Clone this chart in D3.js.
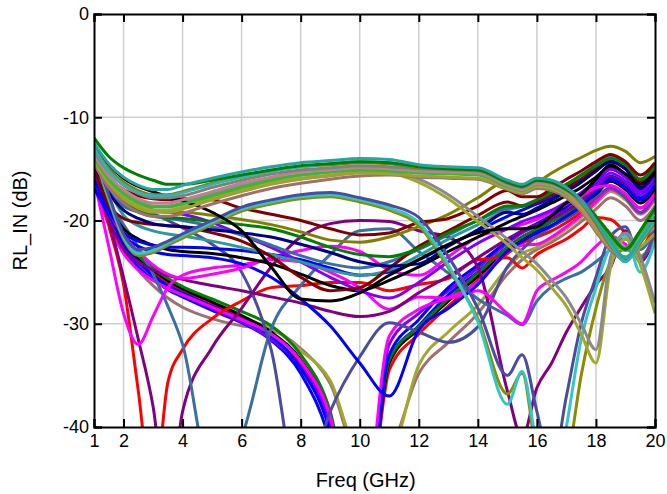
<!DOCTYPE html>
<html>
<head>
<meta charset="utf-8">
<script src="https://cdn.jsdelivr.net/npm/d3@7"></script>
<style>
  body { margin: 0; background: #fff; }
  text { font-family: 'Liberation Sans', Arial, sans-serif; fill: #000; }
</style>
</head>
<body>
<div id="chart"></div>
<script>
// frequency grid (GHz) shared by every trace
const freq = [1, 1.5, 2, 2.5, 3, 3.5, 4, 5, 6, 7, 8, 9, 10, 11, 12, 13, 14, 15, 15.5, 16, 16.5, 17, 17.5, 18, 18.5, 19, 19.5, 20]
const xTickVals = [1, 2, 4, 6, 8, 10, 12, 14, 16, 18, 20]
const yTickVals = [0, -10, -20, -30, -40]

// RL_IN traces (dB); values below -40 run off the plot
const topGreen = [-12.0, -13.8, -14.9, -15.6, -16.1, -16.5, -16.5, -16.1, -15.6, -15.1, -14.7, -14.5, -14.3, -14.4, -14.8, -15.0, -15.1, -16.3, -16.7, -16.1, -16.3, -17.0, -18.0, -19.6, -21.4, -22.8, -21.0, -18.8]
const topTeal = [-12.5, -14.5, -15.8, -16.6, -17.0, -17.0, -16.6, -15.9, -15.3, -14.8, -14.4, -14.2, -14.0, -14.1, -14.6, -14.8, -14.9, -16.1, -16.5, -15.9, -16.1, -16.8, -18.0, -20.0, -22.1, -23.6, -21.8, -19.6]
const topOlive = [-13.0, -15.0, -16.3, -17.1, -17.5, -17.5, -17.2, -16.4, -15.8, -15.2, -14.8, -14.6, -14.4, -14.5, -14.9, -15.0, -15.1, -16.3, -16.7, -16.1, -16.3, -17.0, -18.3, -20.3, -22.5, -23.9, -22.2, -20.2]
const topGray = [-13.3, -15.3, -16.6, -17.4, -17.8, -17.8, -17.6, -16.8, -16.1, -15.5, -15.1, -14.9, -14.7, -14.8, -15.0, -15.1, -15.2, -16.4, -16.8, -16.2, -16.4, -17.1, -18.0, -19.6, -21.3, -22.6, -21.0, -18.6]
const topRose = [-13.6, -15.7, -17.0, -17.9, -18.3, -18.3, -18.0, -17.2, -16.4, -15.8, -15.3, -15.1, -14.9, -15.0, -15.2, -15.3, -15.4, -16.6, -17.0, -16.4, -16.6, -17.3, -18.6, -20.6, -22.6, -23.6, -21.9, -20.6]
const topLime = [-13.9, -16.0, -17.4, -18.3, -18.7, -18.7, -18.4, -17.6, -16.8, -16.1, -15.6, -15.3, -15.1, -15.2, -15.4, -15.5, -15.6, -16.7, -17.1, -16.5, -16.7, -17.4, -18.3, -20.0, -21.8, -22.9, -21.3, -19.1]
const topYellow = [-14.2, -16.4, -17.9, -18.8, -19.2, -19.2, -18.9, -18.0, -17.2, -16.5, -16.0, -15.7, -15.4, -15.5, -15.7, -15.8, -15.9, -16.9, -17.3, -16.7, -16.9, -17.6, -18.9, -20.9, -22.7, -23.5, -22.6, -21.3]
const topBrown = [-14.5, -16.8, -18.3, -19.2, -19.6, -19.6, -19.3, -18.4, -17.6, -16.9, -16.4, -16.0, -15.7, -15.6, -15.8, -15.9, -16.0, -17.0, -17.4, -16.9, -17.1, -17.8, -19.1, -21.1, -22.9, -23.8, -22.0, -20.6]
const topTeal2 = [-13.0, -15.2, -16.5, -17.3, -17.6, -17.6, -17.3, -16.5, -15.8, -15.2, -14.8, -14.5, -14.3, -14.4, -14.8, -14.9, -15.0, -16.2, -16.6, -16.0, -16.2, -16.9, -18.1, -20.0, -22.3, -24.0, -22.0, -20.0]
const black1 = [-12.6, -14.6, -15.9, -16.7, -17.2, -17.7, -18.1, -19.2, -21.0, -24.5, -27.6, -27.8, -27.0, -25.3, -23.8, -22.3, -21.2, -20.8, -20.8, -20.6, -19.5, -18.3, -17.5, -16.0, -14.6, -15.5, -16.5, -15.3]
const descGray = [-13.8, -15.8, -17.2, -18.1, -18.6, -18.6, -18.3, -17.4, -16.6, -16.0, -15.6, -15.3, -15.1, -15.2, -16.0, -17.5, -19.6, -21.8, -23.0, -24.2, -25.8, -27.5, -30.0, -32.5, -23.5, -21.2, -23.5, -28.0]
const descYel = [-14.0, -16.1, -17.6, -18.5, -19.0, -19.0, -18.7, -17.8, -17.0, -16.3, -15.9, -15.6, -15.3, -15.4, -16.3, -17.9, -20.1, -22.3, -23.6, -24.8, -26.5, -28.3, -31.0, -33.8, -24.5, -21.8, -24.3, -29.0]
const slate = [-13.2, -17.5, -21.3, -22.8, -22.6, -22.0, -21.3, -20.0, -18.7, -18.0, -17.5, -17.3, -17.8, -18.5, -19.7, -23.5, -28.5, -35.0, -33.0, -38.5, -44.0, -37.0, -30.0, -25.5, -21.5, -20.6, -23.8, -21.0]
const cyan = [-13.4, -17.8, -21.6, -23.2, -22.9, -22.2, -21.5, -20.2, -18.9, -18.2, -17.7, -17.5, -18.0, -18.8, -20.2, -24.3, -29.8, -37.8, -34.6, -42.0, -48.0, -40.0, -31.5, -26.5, -22.5, -21.5, -25.0, -22.0]
const olive3 = [-13.6, -18.0, -21.8, -23.4, -23.1, -22.4, -21.7, -20.4, -19.1, -18.4, -17.9, -17.7, -18.2, -19.0, -20.5, -24.6, -29.5, -36.8, -34.8, -43.0, -48.0, -44.0, -35.0, -28.5, -24.0, -22.8, -23.5, -21.5]
const maroon1 = [-13.5, -15.8, -17.0, -17.6, -17.9, -18.0, -17.9, -18.0, -18.8, -19.4, -20.0, -20.8, -21.4, -21.2, -20.2, -19.8, -18.6, -17.1, -17.7, -17.7, -16.9, -16.0, -15.2, -14.3, -13.6, -14.3, -15.6, -14.4]
const olive4 = [-13.8, -16.3, -17.8, -18.6, -19.0, -19.2, -19.2, -19.5, -19.9, -20.4, -21.1, -21.9, -22.1, -21.6, -20.6, -19.4, -17.8, -16.2, -16.6, -16.3, -15.4, -14.6, -13.9, -13.2, -12.8, -13.3, -14.4, -13.8]
const green2 = [-14.0, -16.6, -18.2, -19.0, -19.5, -19.7, -19.8, -20.1, -20.4, -20.8, -21.6, -22.6, -23.3, -23.5, -22.7, -21.2, -20.0, -18.6, -18.6, -18.0, -17.3, -16.5, -15.6, -14.7, -14.0, -14.6, -16.0, -14.8]
const navy = [-14.5, -17.3, -19.0, -19.8, -20.3, -20.5, -20.6, -20.9, -21.2, -21.6, -22.3, -23.1, -24.0, -24.4, -24.2, -22.5, -20.9, -19.2, -19.4, -18.8, -18.0, -17.2, -16.3, -15.2, -14.3, -15.0, -16.8, -15.4]
const maroon2 = [-15.0, -18.5, -19.8, -20.2, -20.4, -20.5, -20.6, -21.2, -22.0, -23.5, -25.5, -26.8, -26.5, -24.6, -22.5, -21.0, -19.5, -18.2, -18.6, -18.2, -17.5, -16.8, -16.0, -15.0, -14.3, -15.0, -16.3, -15.0]
const steelV = [-15.5, -18.3, -20.4, -22.6, -25.2, -28.3, -32.0, -45.0, -41.0, -30.5, -26.3, -23.3, -21.0, -20.8, -23.0, -25.1, -27.6, -29.2, -30.1, -27.8, -26.4, -25.6, -25.0, -24.0, -22.8, -21.8, -22.8, -20.8]
const slateDive = [-14.2, -16.5, -17.8, -18.6, -19.3, -20.0, -20.7, -22.3, -25.0, -32.5, -47.0, -38.5, -33.2, -29.9, -30.8, -31.8, -30.3, -24.5, -22.8, -21.5, -20.6, -19.8, -18.8, -17.8, -16.8, -17.8, -19.2, -17.5]
const purpleV = [-15.2, -20.0, -25.5, -31.5, -38.0, -48.0, -38.5, -32.3, -28.5, -24.5, -21.6, -20.3, -20.0, -20.1, -21.0, -21.6, -24.5, -36.5, -41.0, -36.2, -33.8, -30.8, -28.4, -26.2, -24.5, -21.0, -24.0, -21.5]
const redLow = [-15.0, -20.5, -26.2, -36.5, -47.0, -35.7, -32.5, -29.5, -27.8, -26.5, -26.3, -26.0, -26.0, -26.8, -26.2, -25.6, -23.8, -23.6, -24.6, -23.3, -22.5, -21.8, -20.8, -19.7, -19.9, -21.2, -22.6, -20.2]
const magentaA = [-16.0, -22.5, -29.0, -32.0, -29.3, -26.5, -25.3, -24.6, -24.3, -23.8, -24.0, -25.0, -26.5, -28.6, -27.4, -27.5, -26.8, -29.0, -30.0, -26.8, -25.8, -25.0, -24.0, -22.5, -21.5, -22.3, -23.5, -21.8]
const magentaB = [-15.0, -19.0, -21.5, -23.0, -24.3, -25.2, -25.6, -25.2, -24.6, -23.6, -22.9, -22.5, -23.0, -24.8, -25.3, -23.5, -21.6, -20.8, -20.4, -19.9, -19.2, -18.4, -17.6, -16.8, -16.6, -17.4, -18.8, -17.4]
const bundleBlue1 = [-15.8, -19.5, -22.3, -24.0, -25.3, -26.3, -27.0, -28.3, -29.6, -31.2, -34.3, -40.5, -55.0, -33.0, -29.6, -26.5, -24.3, -22.0, -21.0, -20.3, -19.5, -18.7, -17.6, -16.3, -15.0, -15.8, -17.2, -16.0]
const bundleBlue2 = [-16.2, -20.0, -22.8, -24.5, -25.7, -26.7, -27.4, -28.7, -29.9, -31.6, -34.8, -41.5, -56.0, -33.5, -30.2, -27.2, -25.0, -22.6, -21.6, -20.9, -20.1, -19.3, -18.3, -17.0, -15.7, -16.5, -17.8, -16.5]
const bundleRed = [-15.5, -19.2, -22.0, -23.8, -25.0, -26.0, -26.8, -28.1, -29.4, -31.3, -34.0, -39.5, -54.0, -34.5, -31.0, -28.3, -25.8, -23.2, -22.2, -21.6, -21.0, -20.2, -19.2, -18.0, -16.8, -17.6, -18.8, -17.3]
const bundleBlack = [-15.2, -19.0, -21.8, -23.6, -24.8, -25.8, -26.6, -27.9, -29.2, -30.8, -33.5, -39.0, -53.0, -33.8, -30.5, -27.8, -25.4, -22.9, -21.9, -21.2, -20.5, -19.8, -18.8, -17.5, -16.2, -17.0, -18.3, -16.9]
const bundleGreen = [-14.9, -18.7, -21.6, -23.4, -24.6, -25.6, -26.4, -27.6, -28.8, -30.2, -33.0, -38.5, -52.0, -33.5, -30.3, -27.6, -25.1, -22.6, -21.6, -20.8, -20.1, -19.4, -18.5, -17.3, -16.0, -16.8, -18.0, -16.6]
const bundleViolet = [-15.6, -19.4, -22.3, -24.1, -25.4, -26.4, -27.2, -28.5, -29.8, -31.5, -34.2, -39.8, -54.0, -32.0, -29.0, -26.8, -24.6, -22.2, -21.2, -20.5, -19.8, -19.1, -18.0, -16.7, -15.4, -16.2, -17.5, -16.2]
const bundleMagenta = [-16.5, -20.4, -23.2, -24.8, -25.8, -26.6, -27.2, -28.4, -29.6, -31.0, -33.6, -39.0, -52.0, -31.2, -28.6, -27.5, -26.0, -23.0, -22.4, -22.3, -21.6, -20.6, -19.5, -18.2, -17.0, -17.8, -19.3, -17.8]
const bundleOlive = [-15.0, -18.8, -21.9, -23.9, -25.3, -26.4, -27.2, -28.6, -29.6, -30.4, -32.6, -35.5, -42.5, -42.5, -34.0, -30.8, -28.2, -24.6, -23.2, -22.6, -21.8, -20.8, -19.7, -18.4, -17.2, -18.0, -19.4, -18.0]
const bundleRose = [-15.4, -19.4, -22.6, -24.8, -26.3, -27.5, -28.4, -29.5, -30.2, -30.6, -32.4, -35.8, -43.0, -42.0, -34.8, -31.8, -29.0, -25.2, -23.8, -22.8, -22.1, -21.2, -20.1, -18.9, -17.8, -18.6, -20.0, -18.6]
const blueDip = [-16.8, -19.5, -21.5, -22.5, -23.0, -23.3, -23.4, -23.6, -24.2, -25.5, -27.6, -30.2, -33.8, -37.0, -30.6, -28.5, -26.2, -23.0, -22.0, -21.2, -20.5, -19.6, -18.6, -17.3, -16.0, -16.8, -18.0, -16.6]
const blackUp = [-15.0, -18.5, -20.8, -21.8, -22.4, -22.8, -23.0, -23.2, -23.6, -24.2, -25.2, -26.3, -26.8, -25.8, -24.5, -23.0, -21.6, -20.2, -19.6, -19.0, -18.3, -17.6, -16.8, -15.8, -14.8, -15.6, -17.0, -15.6]
const blueUp = [-16.0, -19.0, -21.2, -22.0, -22.4, -22.6, -22.6, -22.7, -22.9, -23.3, -23.8, -24.6, -25.3, -25.0, -23.8, -22.4, -21.0, -19.6, -19.0, -18.4, -17.8, -17.0, -16.2, -15.2, -14.2, -15.0, -16.5, -15.0]
const violetMid = [-14.8, -17.4, -18.4, -18.8, -19.0, -19.2, -19.4, -20.2, -21.4, -22.6, -24.0, -25.5, -26.8, -27.5, -26.0, -24.0, -22.2, -20.8, -20.1, -19.6, -19.0, -18.2, -17.3, -16.2, -15.0, -15.8, -17.2, -15.8]
const tealMid = [-14.0, -17.0, -19.5, -20.5, -21.0, -21.3, -21.5, -22.0, -22.6, -23.3, -24.0, -24.8, -25.3, -24.8, -23.4, -21.8, -20.4, -19.0, -18.6, -18.0, -17.4, -16.6, -15.8, -14.8, -13.9, -14.7, -16.2, -14.8]
const steelMid = [-14.6, -17.2, -18.6, -19.2, -19.6, -19.8, -20.0, -20.6, -21.4, -22.4, -23.4, -24.2, -24.6, -24.0, -22.8, -21.4, -20.0, -18.8, -18.6, -18.0, -17.3, -16.5, -15.6, -14.6, -13.8, -14.6, -16.0, -14.6]
const purpleLow = [-15.8, -19.8, -22.8, -24.0, -24.8, -25.3, -25.7, -26.3, -26.8, -27.4, -28.0, -28.8, -29.3, -28.8, -27.0, -25.4, -23.6, -21.8, -21.0, -20.4, -19.8, -19.0, -18.1, -17.0, -15.8, -16.6, -18.0, -16.6]

// draw order (bottom first) and matching trace colours
const traces = [bundleRose, bundleOlive, bundleBlue2, bundleRed, bundleBlack, bundleGreen, bundleViolet, bundleBlue1, bundleMagenta,
  redLow, purpleV, steelV, slateDive, magentaA, purpleLow, blueDip, magentaB, blackUp, blueUp, violetMid, tealMid, steelMid,
  maroon2, navy, green2, olive4, maroon1, olive3, cyan, slate, descYel, descGray, black1,
  topBrown, topYellow, topLime, topRose, topGray, topOlive, topTeal2, topGreen, topTeal]
const traceColors = ['#a07070', '#a0a830', '#0000ff', '#ff0000', '#000000', '#008000', '#8000ff', '#0000ff', '#ff00ff',
  '#ff0000', '#800080', '#3a6ea5', '#4b4ba0', '#ff00ff', '#800080', '#0000ff', '#ff00ff', '#000000', '#0000ff', '#8000ff', '#2a9a9a', '#3a6ea5',
  '#800000', '#000080', '#008000', '#808000', '#800000', '#8c8c00', '#33c6c6', '#4b4ba0', '#a0a830', '#8a8a8a', '#000000',
  '#a07070', '#a0a030', '#33bb33', '#c08090', '#808080', '#808000', '#38b0b0', '#008000', '#2aa3a3']

// set the dimensions and margins of the graph
const margin = { top: 14, right: 12, bottom: 67, left: 94 }
const width = 667 - margin.left - margin.right
const height = 494 - margin.top - margin.bottom

const svg = d3.select('#chart')
  .append('svg')
  .attr('width', 667)
  .attr('height', 494)

const g = svg.append('g')
  .attr('transform', 'translate(' + margin.left + ',' + margin.top + ')')

const x = d3.scaleLinear().domain([1, 20]).range([0, width])
const y = d3.scaleLinear().domain([-40, 0]).range([height, 0])

// grid
g.append('g')
  .selectAll('line')
  .data(xTickVals.slice(1, -1))
  .enter().append('line')
  .attr('x1', d => x(d)).attr('x2', d => x(d))
  .attr('y1', 0).attr('y2', height)
  .attr('stroke', '#cfcfcf').attr('stroke-width', 1.5)
g.append('g')
  .selectAll('line')
  .data(yTickVals.slice(1, -1))
  .enter().append('line')
  .attr('x1', 0).attr('x2', width)
  .attr('y1', d => y(d)).attr('y2', d => y(d))
  .attr('stroke', '#cfcfcf').attr('stroke-width', 1.5)

// traces
g.append('clipPath').attr('id', 'plotClip')
  .append('rect').attr('width', width).attr('height', height)

const line = d3.line()
  .x((d, i) => x(freq[i]))
  .y(d => y(d))
  .curve(d3.curveMonotoneX)

g.append('g')
  .attr('clip-path', 'url(#plotClip)')
  .selectAll('path')
  .data(traces)
  .enter().append('path')
  .attr('d', d => line(d))
  .attr('fill', 'none')
  .attr('stroke', (d, i) => traceColors[i])
  .attr('stroke-width', 3)
  .attr('stroke-linejoin', 'round')

// axes: ticks point inward, labels outside (plain hyphen for negatives)
const plain = d => String(d)
const xAxis = g.append('g')
  .attr('transform', 'translate(0,' + height + ')')
  .call(d3.axisBottom(x).tickValues(xTickVals).tickSize(-8).tickPadding(7).tickFormat(plain))
const xTop = g.append('g')
  .call(d3.axisTop(x).tickValues(xTickVals).tickSize(-8).tickFormat(''))
const yAxis = g.append('g')
  .call(d3.axisLeft(y).tickValues(yTickVals).tickSize(-8).tickPadding(5).tickFormat(plain))
const yRight = g.append('g')
  .attr('transform', 'translate(' + width + ',0)')
  .call(d3.axisRight(y).tickValues(yTickVals).tickSize(-8).tickFormat(''))

;[xAxis, xTop, yAxis, yRight].forEach(a => {
  a.selectAll('.domain').attr('stroke', '#000').attr('stroke-width', 2)
  a.selectAll('.tick line').attr('stroke', '#000').attr('stroke-width', 2)
  a.selectAll('.tick text').attr('font-size', 18).attr('font-family', "'Liberation Sans', Arial, sans-serif")
})

// axis titles
svg.append('text')
  .attr('x', margin.left + x(10.2))
  .attr('y', 487)
  .attr('text-anchor', 'middle')
  .attr('font-size', 20)
  .text('Freq (GHz)')
svg.append('text')
  .attr('transform', 'translate(27,' + (margin.top + height / 2) + ') rotate(-90)')
  .attr('text-anchor', 'middle')
  .attr('font-size', 20)
  .text('RL_IN (dB)')
</script>
</body>
</html>
